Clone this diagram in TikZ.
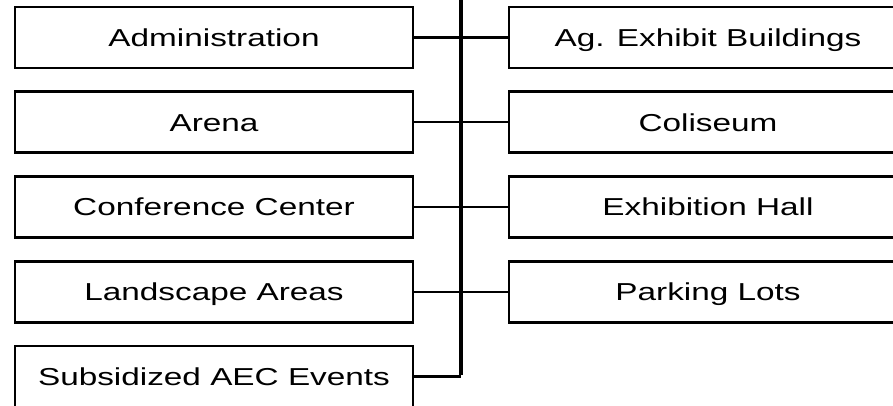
\documentclass[tikz,border=0pt]{standalone}
\usepackage{fontspec}
\setmainfont{Liberation Sans}[FakeStretch=1.36]
\begin{document}
\begin{tikzpicture}[x=1pt,y=-1pt,
  unit/.style={draw=black, line width=2.6pt, minimum width=398pt, minimum height=61pt,
    inner sep=0pt, outer sep=0pt, font=\fontsize{24.5}{29}\selectfont,
    text height=17.5pt, text depth=0pt, anchor=center},
  trunkline/.style={line width=4.5pt},
  link/.style={line width=2.4pt}]
\useasboundingbox (0,0) rectangle (893,405);
\clip (0,0) rectangle (893,405);
\node[unit] (l1) at (214,37.5) {Administration};
\node[unit] (l2) at (214,122.25) {Arena};
\node[unit] (l3) at (214,207) {Conference Center};
\node[unit] (l4) at (214,291.75) {Landscape Areas};
\node[unit] (l5) at (214,376.5) {Subsidized AEC Events};
\node[unit] (r1) at (708,37.5) {Ag. Exhibit Buildings};
\node[unit] (r2) at (708,122.25) {Coliseum};
\node[unit] (r3) at (708,207) {Exhibition Hall};
\node[unit] (r4) at (708,291.75) {Parking Lots};
\coordinate (ttop) at (461,-10);
\coordinate (tbot) at (461,376.5);
\draw[trunkline] (ttop) -- ([yshift=1.2pt]tbot);
\draw[link] (l1.east) -- (r1.west);
\draw[link] (l2.east) -- (r2.west);
\draw[link] (l3.east) -- (r3.west);
\draw[link] (l4.east) -- (r4.west);
\draw[link] (l5.east) -- (tbot);
\end{tikzpicture}
\end{document}
